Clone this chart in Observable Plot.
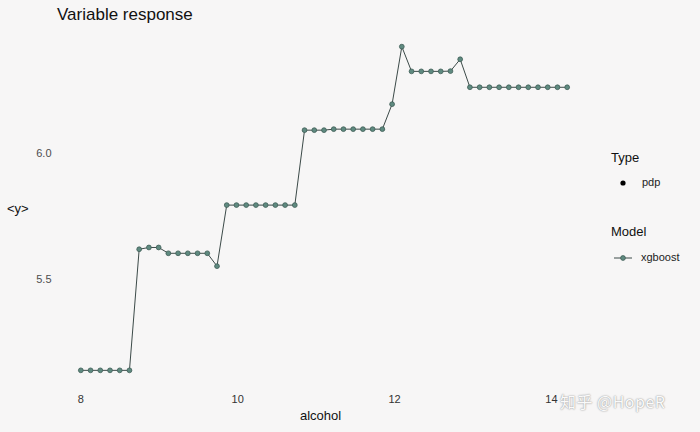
<!DOCTYPE html>
<html>
<head>
<meta charset="utf-8">
<script src="https://cdn.jsdelivr.net/npm/d3@7"></script>
<script src="https://cdn.jsdelivr.net/npm/@observablehq/plot@0.6"></script>
<style>
  html, body { margin: 0; padding: 0; background: #f7f6f6; }
  #wrap { position: relative; width: 700px; height: 432px; background: #f7f6f6; font-family: "Liberation Sans", Arial, sans-serif; overflow: hidden; }
  #title { position: absolute; left: 57px; top: 5px; font-size: 17px; color: #111; }
  #chart { position: absolute; left: 0; top: 30px; }
  .lab { position: absolute; color: #111; }
  .legt { position: absolute; font-size: 13px; color: #111; }
  .legi { position: absolute; font-size: 11px; color: #222; }
  #wm { position: absolute; left: 560px; top: 389px; font-size: 16px; color: #fafafa; text-shadow: 0 0 2px #9a9a9a, 0 0 1px #b0b0b0; font-family: "Noto Sans CJK SC", sans-serif; letter-spacing: 0.5px; }
</style>
</head>
<body>
<div id="wrap">
  <div id="title">Variable response</div>
  <div id="chart"></div>
  <div class="lab" style="left:7px; top:201px; font-size:13px;">&lt;y&gt;</div>
  <div class="lab" style="left:300px; top:408px; font-size:13px;">alcohol</div>
  <div class="legt" style="left:611px; top:150px;">Type</div>
  <svg style="position:absolute; left:612px; top:176px;" width="22" height="14"><circle cx="11" cy="7" r="2.6" fill="#000"></circle></svg>
  <div class="legi" style="left:642px; top:176px;">pdp</div>
  <div class="legt" style="left:611px; top:224px;">Model</div>
  <svg style="position:absolute; left:612px; top:251px;" width="22" height="14"><line x1="2" y1="7" x2="20" y2="7" stroke="#3c4a48" stroke-width="1"></line><circle cx="11" cy="7" r="2.4" fill="#5f8a80" stroke="#3f5d56" stroke-width="0.8"></circle></svg>
  <div class="legi" style="left:641px; top:251px;">xgboost</div>
  <div id="wm">知乎 @HopeR</div>
</div>
<script>
const alcohol = [8.000, 8.124, 8.248, 8.372, 8.496, 8.620, 8.744, 8.868, 8.992, 9.116, 9.240, 9.364, 9.488, 9.612, 9.736, 9.860, 9.984, 10.108, 10.232, 10.356, 10.480, 10.604, 10.728, 10.852, 10.976, 11.100, 11.224, 11.348, 11.472, 11.596, 11.720, 11.844, 11.968, 12.092, 12.216, 12.340, 12.464, 12.588, 12.712, 12.836, 12.960, 13.084, 13.208, 13.332, 13.456, 13.580, 13.704, 13.828, 13.952, 14.076, 14.200];
const response = [5.139, 5.139, 5.139, 5.139, 5.139, 5.139, 5.619, 5.626, 5.626, 5.603, 5.603, 5.603, 5.603, 5.603, 5.552, 5.794, 5.794, 5.794, 5.794, 5.794, 5.794, 5.794, 5.794, 6.091, 6.091, 6.091, 6.095, 6.095, 6.095, 6.095, 6.095, 6.095, 6.194, 6.422, 6.324, 6.324, 6.324, 6.324, 6.325, 6.372, 6.261, 6.261, 6.261, 6.261, 6.261, 6.261, 6.261, 6.261, 6.261, 6.261, 6.261];
const xTicks = [8, 10, 12, 14];
const yTicks = [5.5, 6.0];

const data = alcohol.map((x, i) => ({x, y: response[i]}));

const plot = Plot.plot({
  width: 700,
  height: 402,
  marginLeft: 56,
  marginRight: 109,
  marginTop: 0,
  marginBottom: 46,
  style: {background: "transparent", fontFamily: "Liberation Sans, Arial, sans-serif"},
  x: {domain: [7.69, 14.51], ticks: xTicks, label: null, tickFormat: d3.format("d")},
  y: {domain: [5.075, 6.486], ticks: yTicks, label: null, tickFormat: d3.format(".1f")},
  marks: [
    Plot.axisX({ticks: xTicks, tickSize: 0, tickPadding: 9, fontSize: 11, color: "#333", label: null, tickFormat: d3.format("d")}),
    Plot.axisY({ticks: yTicks, tickSize: 0, tickPadding: 5, fontSize: 11, color: "#4d4d4d", label: null, tickFormat: d3.format(".1f")}),
    Plot.line(data, {x: "x", y: "y", stroke: "#3c4a48", strokeWidth: 1}),
    Plot.dot(data, {x: "x", y: "y", r: 2.4, fill: "#5f8a80", stroke: "#3f5d56", strokeWidth: 0.8})
  ]
});
document.getElementById("chart").appendChild(plot);
</script>
</body>
</html>
